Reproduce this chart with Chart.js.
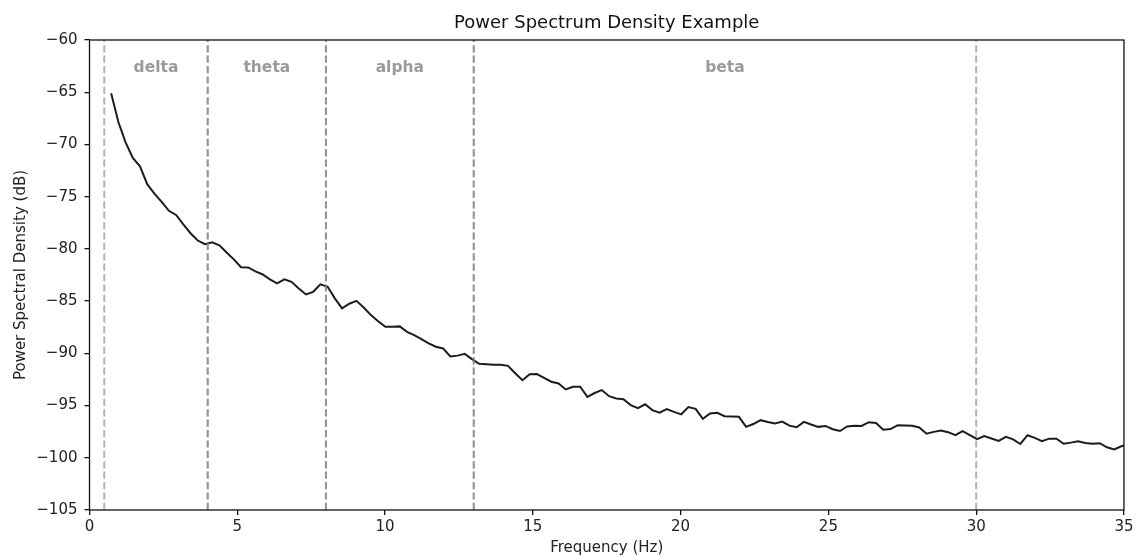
<!DOCTYPE html>
<html>
<head>
<meta charset="utf-8">
<script src="https://cdn.jsdelivr.net/npm/chart.js@4.4.1/dist/chart.umd.min.js"></script>
<style>
  html, body { margin: 0; padding: 0; background: #ffffff; }
  #wrap { width: 1137px; height: 557px; }
</style>
</head>
<body>
<div id="wrap"><canvas id="c" width="1137" height="557"></canvas></div>
<script>
// Frequency bins (Hz)
const freqs = [
  0.732, 0.977, 1.221, 1.465, 1.709, 1.953, 2.197, 2.441, 2.686, 2.930,
  3.174, 3.418, 3.662, 3.906, 4.150, 4.395, 4.639, 4.883, 5.127, 5.371,
  5.615, 5.859, 6.104, 6.348, 6.592, 6.836, 7.080, 7.324, 7.568, 7.813,
  8.057, 8.301, 8.545, 8.789, 9.033, 9.277, 9.521, 9.766, 10.010, 10.254,
  10.498, 10.742, 10.986, 11.230, 11.475, 11.719, 11.963, 12.207, 12.451, 12.695,
  12.939, 13.184, 13.428, 13.672, 13.916, 14.160, 14.404, 14.648, 14.893, 15.137,
  15.381, 15.625, 15.869, 16.113, 16.357, 16.602, 16.846, 17.090, 17.334, 17.578,
  17.822, 18.066, 18.311, 18.555, 18.799, 19.043, 19.287, 19.531, 19.775, 20.020,
  20.264, 20.508, 20.752, 20.996, 21.240, 21.484, 21.729, 21.973, 22.217, 22.461,
  22.705, 22.949, 23.193, 23.438, 23.682, 23.926, 24.170, 24.414, 24.658, 24.902,
  25.146, 25.391, 25.635, 25.879, 26.123, 26.367, 26.611, 26.855, 27.100, 27.344,
  27.588, 27.832, 28.076, 28.320, 28.564, 28.809, 29.053, 29.297, 29.541, 29.785,
  30.029, 30.273, 30.518, 30.762, 31.006, 31.250, 31.494, 31.738, 31.982, 32.227,
  32.471, 32.715, 32.959, 33.203, 33.447, 33.691, 33.936, 34.180, 34.424, 34.668,
  34.912, 35.156
];

// Power spectral density (dB)
const psdValues = [
  -65.10, -67.85, -69.80, -71.30, -72.10, -73.80, -74.70, -75.50, -76.35, -76.75,
  -77.65, -78.50, -79.20, -79.55, -79.37, -79.65, -80.35, -81.00, -81.76, -81.78,
  -82.15, -82.45, -82.92, -83.31, -82.92, -83.15, -83.79, -84.36, -84.11, -83.40,
  -83.63, -84.74, -85.70, -85.25, -84.97, -85.61, -86.34, -86.92, -87.46, -87.45,
  -87.42, -87.94, -88.26, -88.64, -89.05, -89.37, -89.53, -90.30, -90.22, -90.05,
  -90.55, -91.00, -91.05, -91.10, -91.10, -91.20, -91.90, -92.57, -92.00, -91.99,
  -92.34, -92.72, -92.89, -93.46, -93.20, -93.20, -94.17, -93.80, -93.52, -94.10,
  -94.32, -94.40, -94.96, -95.25, -94.88, -95.44, -95.69, -95.34, -95.60, -95.84,
  -95.15, -95.32, -96.27, -95.76, -95.69, -96.02, -96.05, -96.08, -97.04, -96.77,
  -96.40, -96.58, -96.72, -96.53, -96.92, -97.08, -96.56, -96.81, -97.04, -96.95,
  -97.27, -97.44, -97.00, -96.94, -96.95, -96.59, -96.67, -97.32, -97.25, -96.88,
  -96.90, -96.94, -97.10, -97.70, -97.52, -97.40, -97.55, -97.84, -97.44, -97.84,
  -98.22, -97.92, -98.15, -98.38, -97.99, -98.23, -98.68, -97.84, -98.10, -98.41,
  -98.17, -98.17, -98.66, -98.55, -98.41, -98.58, -98.65, -98.60, -99.00, -99.20,
  -98.90, -98.70
];

// Frequency bands
const bandNames = ['delta', 'theta', 'alpha', 'beta'];
const bandStart = [0.5, 4, 8, 13];
const bandEnd   = [4, 8, 13, 30];

// Axis ticks
const xTicks = [0, 5, 10, 15, 20, 25, 30, 35];
const yTicks = [-105, -100, -95, -90, -85, -80, -75, -70, -65, -60];

const FONT = "'DejaVu Sans', 'Liberation Sans', sans-serif";

const points = freqs.map((f, i) => ({ x: f, y: psdValues[i] }));

function minusFmt(v) {
  return v < 0 ? '\u2212' + Math.abs(v) : String(v);
}

const bandPlugin = {
  id: 'bands',
  afterDatasetsDraw(chart) {
    const { ctx, chartArea: a, scales: { x } } = chart;
    ctx.save();
    ctx.beginPath();
    ctx.rect(a.left, a.top, a.right - a.left, a.bottom - a.top);
    ctx.clip();
    ctx.strokeStyle = 'rgba(128,128,128,0.6)';
    ctx.lineWidth = 2;
    ctx.setLineDash([7.2, 3.2]);
    const drawV = (v) => {
      const px = x.getPixelForValue(v);
      ctx.beginPath();
      ctx.moveTo(px, a.bottom);
      ctx.lineTo(px, a.top);
      ctx.stroke();
    };
    for (let i = 0; i < bandNames.length; i++) {
      drawV(bandStart[i]);
      drawV(bandEnd[i]);
    }
    ctx.setLineDash([]);
    ctx.fillStyle = '#9b9b9b';
    ctx.font = 'bold 15.5px ' + FONT;
    ctx.textAlign = 'center';
    ctx.textBaseline = 'middle';
    for (let i = 0; i < bandNames.length; i++) {
      const cx = x.getPixelForValue((bandStart[i] + bandEnd[i]) / 2);
      ctx.fillText(bandNames[i], cx, a.top + 28);
    }
    ctx.restore();
  },
  afterDraw(chart) {
    const { ctx, chartArea: a } = chart;
    ctx.save();
    ctx.strokeStyle = '#111';
    ctx.lineWidth = 1.3;
    ctx.strokeRect(a.left, a.top, a.right - a.left, a.bottom - a.top);
    ctx.restore();
  }
};

new Chart(document.getElementById('c'), {
  type: 'line',
  data: {
    datasets: [{
      data: points,
      borderColor: '#1c1c1c',
      borderWidth: 2,
      pointRadius: 0,
      fill: false,
      tension: 0
    }]
  },
  options: {
    responsive: false,
    animation: false,
    devicePixelRatio: 1,
    layout: { padding: { left: 0, right: 12.5, top: 0, bottom: 0 } },
    plugins: {
      legend: { display: false },
      tooltip: { enabled: false },
      title: {
        display: true,
        text: 'Power Spectrum Density Example',
        fullSize: false,
        color: '#111',
        font: { family: FONT, size: 18, weight: 'normal' },
        padding: { top: 13, bottom: 5.4 }
      }
    },
    scales: {
      x: {
        type: 'linear',
        min: 0,
        max: 35,
        afterBuildTicks: (s) => { s.ticks = xTicks.map(v => ({ value: v })); },
        afterFit: (s) => { s.height = 47; },
        ticks: {
          color: '#222',
          font: { family: FONT, size: 15 },
          padding: 3.5,
          maxRotation: 0,
          callback: (v) => minusFmt(v)
        },
        grid: { display: true, drawOnChartArea: false, drawTicks: true, tickLength: 5, color: '#111', lineWidth: 1.3 },
        border: { display: false },
        title: {
          display: true,
          text: 'Frequency (Hz)',
          color: '#222',
          font: { family: FONT, size: 15 },
          padding: { top: 0, bottom: 0 }
        }
      },
      y: {
        type: 'linear',
        min: -105,
        max: -60,
        afterBuildTicks: (s) => { s.ticks = yTicks.map(v => ({ value: v })); },
        afterFit: (s) => { s.width = 89.5; },
        ticks: {
          color: '#222',
          font: { family: FONT, size: 15 },
          padding: 7,
          callback: (v) => minusFmt(v)
        },
        grid: { display: true, drawOnChartArea: false, drawTicks: true, tickLength: 5, color: '#111', lineWidth: 1.3 },
        border: { display: false },
        title: {
          display: true,
          text: 'Power Spectral Density (dB)',
          color: '#222',
          font: { family: FONT, size: 15 },
          padding: { top: 12, bottom: 0 }
        }
      }
    }
  },
  plugins: [bandPlugin]
});
</script>
</body>
</html>
